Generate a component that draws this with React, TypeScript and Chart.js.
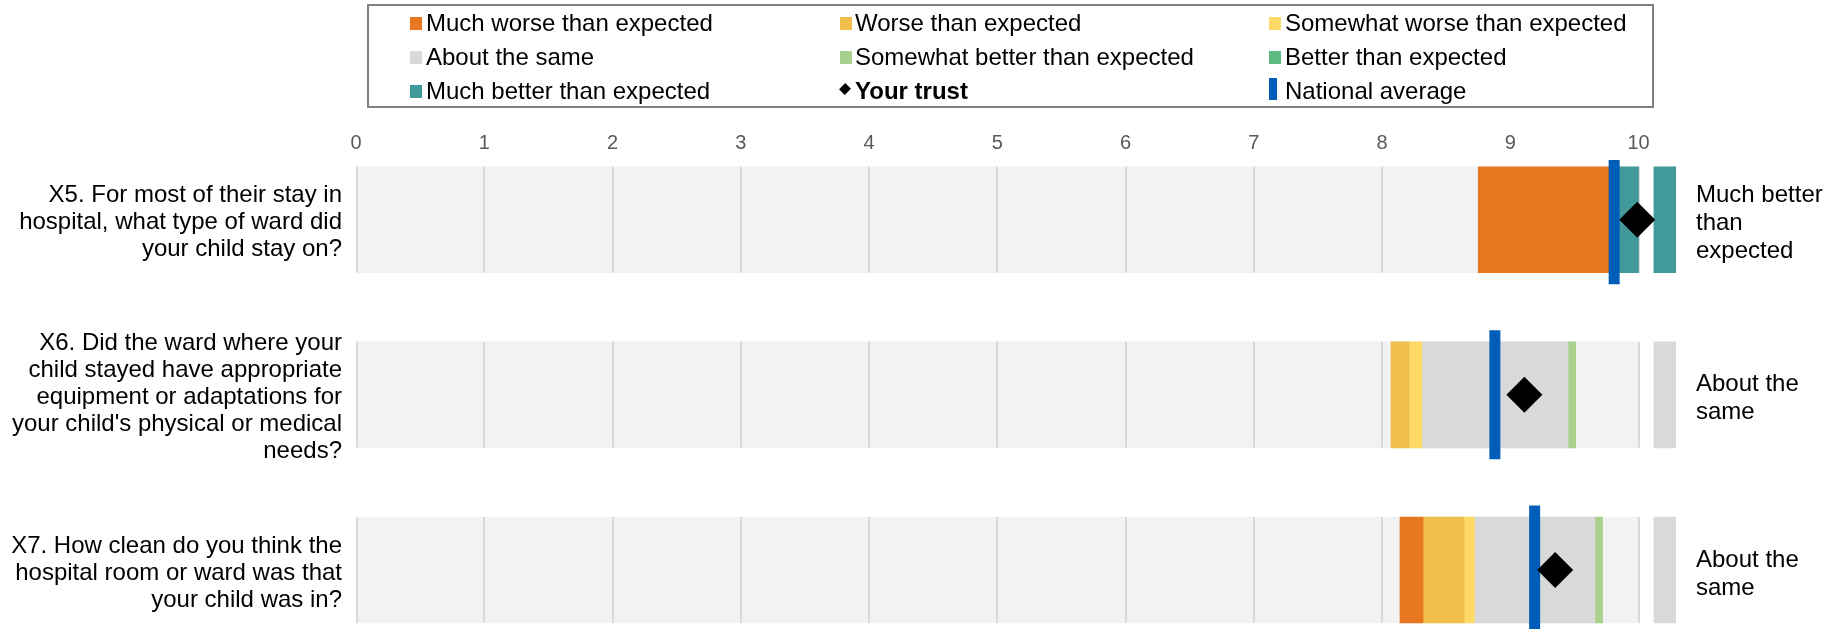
import React, { useEffect, useRef } from 'react';
import { Chart, registerables } from 'chart.js';

Chart.register(...registerables);

// ---------- data ----------
const questions: string[][] = [
  ['X5. For most of their stay in', 'hospital, what type of ward did', 'your child stay on?'],
  [
    'X6. Did the ward where your',
    'child stayed have appropriate',
    'equipment or adaptations for',
    "your child's physical or medical",
    'needs?',
  ],
  ['X7. How clean do you think the', 'hospital room or ward was that', 'your child was in?'],
];
const resultLabels: string[][] = [
  ['Much better', 'than', 'expected'],
  ['About the', 'same'],
  ['About the', 'same'],
];
const resultCategory = ['Much better than expected', 'About the same', 'About the same'];
const xTicks = [0, 1, 2, 3, 4, 5, 6, 7, 8, 9, 10];

type Range = [number, number] | null;
const muchWorse: Range[] = [[8.75, 9.81], null, [8.14, 8.32]];
const worse: Range[] = [null, [8.07, 8.21], [8.32, 8.64]];
const somewhatWorse: Range[] = [null, [8.21, 8.31], [8.64, 8.72]];
const aboutSame: Range[] = [null, [8.31, 9.45], [8.72, 9.66]];
const somewhatBetter: Range[] = [null, [9.45, 9.51], [9.66, 9.72]];
const better: Range[] = [null, null, null];
const muchBetter: Range[] = [[9.81, 10.0], null, null];
const yourTrust = [9.99, 9.11, 9.35];
const nationalAverage = [9.81, 8.88, 9.19];

const legendLabels = [
  'Much worse than expected',
  'Worse than expected',
  'Somewhat worse than expected',
  'About the same',
  'Somewhat better than expected',
  'Better than expected',
  'Much better than expected',
  'Your trust',
  'National average',
];

// ---------- styles ----------
const COLORS: Record<string, string> = {
  'Much worse than expected': '#E87722',
  'Worse than expected': '#F0BE4B',
  'Somewhat worse than expected': '#FED966',
  'About the same': '#D9D9D9',
  'Somewhat better than expected': '#A9D18E',
  'Better than expected': '#5CBB83',
  'Much better than expected': '#42999A',
  'Your trust': '#000000',
  'National average': '#005EB8',
};
const FONT = '"Liberation Sans", Arial, sans-serif';
const BG_LABEL = '__band';
const SCALE_MAX = 10.3;
const BAND_SPAN: [number, number] = [0, 10];
const INDICATOR_SPAN: [number, number] = [10.12, 10.29];
const Y_MIN = -0.341;
const Y_MAX = 2.337;

const toBarData = (ranges: Range[]) =>
  ranges
    .map((r, i) => (r ? { x: r, y: i } : null))
    .filter((d) => d !== null) as { x: [number, number]; y: number }[];

const bandGridPlugin = {
  id: 'bandGrid',
  afterDatasetDraw(chart: any, args: any) {
    if (chart.data.datasets[args.index].label !== BG_LABEL) return;
    const ctx = chart.ctx;
    const xs = chart.scales.x;
    ctx.save();
    ctx.strokeStyle = '#D9D9D9';
    ctx.lineWidth = 2;
    args.meta.data.forEach((bar: any) => {
      const { y, height } = bar.getProps(['y', 'height'], true);
      xTicks.forEach((t) => {
        const px = Math.round(xs.getPixelForValue(t)) + (t === 0 ? 1 : 0);
        ctx.beginPath();
        ctx.moveTo(px, y - height / 2);
        ctx.lineTo(px, y + height / 2);
        ctx.stroke();
      });
    });
    ctx.restore();
  },
};

const rowTicks = (scale: any) => {
  scale.ticks = questions.map((_, i) => ({ value: i }));
};
const noGrid = { display: false, drawTicks: false, tickLength: 0 };

function Legend() {
  const cols = [
    { marker: 408, text: 424 },
    { marker: 838, text: 853 },
    { marker: 1267, text: 1283 },
  ];
  const rows = [21, 55, 88.5];
  return (
    <div
      style={{
        position: 'absolute',
        left: 367,
        top: 4,
        width: 1287,
        height: 104,
        border: '2px solid #808080',
        boxSizing: 'border-box',
        pointerEvents: 'none',
      }}
    >
      {legendLabels.map((label, i) => {
        const c = cols[i % 3];
        const cy = rows[Math.floor(i / 3)];
        let marker: React.ReactNode;
        if (label === 'Your trust') {
          marker = (
            <div style={{ position: 'absolute', left: c.marker - 367 + 1, top: cy - 10, width: 8, height: 8, background: COLORS[label], transform: 'rotate(45deg) scaleY(1.1)' }} />
          );
        } else if (label === 'National average') {
          marker = (
            <div style={{ position: 'absolute', left: c.marker - 367, top: cy - 17, width: 8, height: 22, background: COLORS[label] }} />
          );
        } else {
          marker = (
            <div style={{ position: 'absolute', left: c.marker - 367, top: cy - 10, width: 12, height: 13, background: COLORS[label] }} />
          );
        }
        return (
          <React.Fragment key={label}>
            {marker}
            <div
              style={{
                position: 'absolute',
                left: c.text - 367,
                top: cy - 19,
                height: 30,
                lineHeight: '30px',
                fontFamily: FONT,
                fontSize: 24,
                fontWeight: label === 'Your trust' ? 'bold' : 'normal',
                color: '#000',
                whiteSpace: 'nowrap',
              }}
            >
              {label}
            </div>
          </React.Fragment>
        );
      })}
    </div>
  );
}

export default function App() {
  const canvasRef = useRef<HTMLCanvasElement | null>(null);

  useEffect(() => {
    document.body.style.margin = '0';
    const canvas = canvasRef.current;
    if (!canvas) return;

    const segmentSets: [string, Range[]][] = [
      ['Much worse than expected', muchWorse],
      ['Worse than expected', worse],
      ['Somewhat worse than expected', somewhatWorse],
      ['About the same', aboutSame],
      ['Somewhat better than expected', somewhatBetter],
      ['Better than expected', better],
      ['Much better than expected', muchBetter],
    ];

    const datasets: any[] = [
      { type: 'bar', label: BG_LABEL, data: questions.map((_, i) => ({ x: BAND_SPAN, y: i })), backgroundColor: '#F2F2F2', barThickness: 106, grouped: false, order: 10 },
      { type: 'bar', label: 'Result', data: resultCategory.map((_, i) => ({ x: INDICATOR_SPAN, y: i })), backgroundColor: resultCategory.map((c) => COLORS[c]), barThickness: 106, grouped: false, order: 9 },
      ...segmentSets.map(([label, ranges]) => ({ type: 'bar', label, data: toBarData(ranges), backgroundColor: COLORS[label], barThickness: 106, grouped: false, order: 5 })),
      {
        type: 'scatter', label: 'National average', data: nationalAverage.map((v, i) => ({ x: v, y: i })),
        pointStyle: 'line', rotation: 90, radius: 64.5, borderWidth: 11,
        borderColor: COLORS['National average'], backgroundColor: COLORS['National average'], order: 2,
      },
      {
        type: 'scatter', label: 'Your trust', data: yourTrust.map((v, i) => ({ x: v, y: i })),
        pointStyle: 'rectRot', radius: 18, borderWidth: 0,
        backgroundColor: COLORS['Your trust'], borderColor: COLORS['Your trust'], order: 1,
      },
    ];

    const chart = new Chart(canvas, {
      type: 'bar',
      data: { datasets },
      plugins: [bandGridPlugin],
      options: {
        indexAxis: 'y',
        animation: false,
        responsive: false,
        events: [],
        layout: { autoPadding: false, padding: { top: 110, left: 0, right: 0, bottom: 0 } },
        plugins: { legend: { display: false }, tooltip: { enabled: false } },
        scales: {
          x: {
            type: 'linear', position: 'top', min: 0, max: SCALE_MAX, offset: false,
            grid: noGrid, border: { display: false },
            afterBuildTicks: (s: any) => { s.ticks = xTicks.map((v) => ({ value: v })); },
            afterFit: (s: any) => { s.height = 50; s.paddingLeft = 0; s.paddingRight = 0; },
            ticks: { padding: 5, color: '#595959', font: { family: FONT, size: 20 }, callback: (v: any) => String(v) },
          },
          y: {
            type: 'linear', position: 'left', reverse: true, min: Y_MIN, max: Y_MAX, offset: false,
            grid: noGrid, border: { display: false },
            afterBuildTicks: rowTicks,
            afterFit: (s: any) => { s.width = 356; s.paddingTop = 0; s.paddingBottom = 0; },
            ticks: { padding: 14, labelOffset: 3, color: '#000000', autoSkip: false, font: { family: FONT, size: 24, lineHeight: '27px' }, callback: (v: any) => questions[v] ?? '' },
          },
          y2: {
            type: 'linear', display: true, position: 'right', reverse: true, min: Y_MIN, max: Y_MAX, offset: false,
            grid: noGrid, border: { display: false },
            afterBuildTicks: rowTicks,
            afterFit: (s: any) => { s.width = 146; s.paddingTop = 0; s.paddingBottom = 0; },
            ticks: { padding: 19, labelOffset: 4, color: '#000000', autoSkip: false, font: { family: FONT, size: 24, lineHeight: '28px' }, callback: (v: any) => resultLabels[v] ?? '' },
          },
        },
      } as any,
    });

    return () => chart.destroy();
  }, []);

  return (
    <div style={{ position: 'absolute', left: 0, top: 0, width: 1823, height: 629, overflow: 'hidden', background: '#fff' }}>
      <canvas ref={canvasRef} width={1823} height={629} style={{ display: 'block', width: 1823, height: 629 }} />
      <Legend />
    </div>
  );
}
